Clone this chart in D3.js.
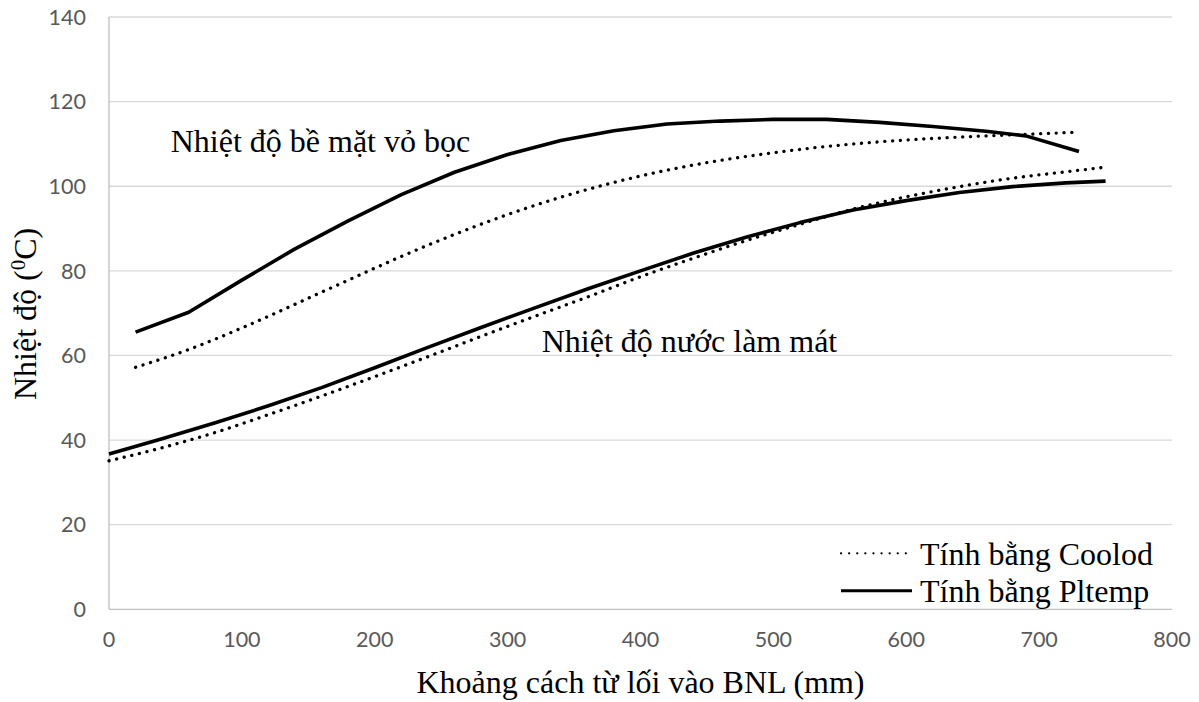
<!DOCTYPE html>
<html>
<head>
<meta charset="utf-8">
<script src="https://cdn.jsdelivr.net/npm/d3@7"></script>
<style>
  html, body { margin: 0; padding: 0; background: #fff; }
  svg { display: block; }
</style>
</head>
<body>
<svg id="chart" width="1199" height="702"></svg>
<script>
// ---- Data ----
const xTicks = [0, 100, 200, 300, 400, 500, 600, 700, 800];
const yTicks = [0, 20, 40, 60, 80, 100, 120, 140];

// Surface temperature (upper curves)
const upperX_Pltemp = [20,60,100,140,180,220,260,300,340,380,420,460,500,540,580,620,660,690,730];
const upperY_Pltemp = [65.5,70.2,77.8,85.2,91.8,98.0,103.3,107.5,110.8,113.1,114.7,115.4,115.8,115.8,115.1,114.1,113.0,111.9,108.2];
const upperX_Coolod = [20,60,100,140,180,220,260,300,340,380,420,460,500,540,580,620,660,700,730];
const upperY_Coolod = [57.2,61.4,66.5,72.1,77.8,83.4,88.6,93.3,97.4,100.9,103.8,106.1,107.9,109.4,110.5,111.3,111.9,112.4,112.8];

// Coolant temperature (lower curves)
const lowerX = [0,40,80,120,160,200,240,280,320,360,400,440,480,520,560,600,640,680,720,750];
const lowerY_Pltemp = [36.7,40.3,44.1,48.1,52.4,57.1,61.9,66.6,71.2,75.7,80.0,84.2,88.0,91.4,94.4,96.6,98.5,99.9,100.8,101.2];
const lowerY_Coolod = [35.1,38.2,41.8,46.0,50.4,55.0,59.7,64.5,69.2,73.8,78.6,83.0,87.2,91.0,94.6,97.5,99.9,101.9,103.4,104.5];

const seriesNames = ["Tính bằng Coolod", "Tính bằng Pltemp"];
const annotations = ["Nhiệt độ bề mặt vỏ bọc", "Nhiệt độ nước làm mát"];
const xTitle = "Khoảng cách từ lối vào BNL (mm)";

// ---- Layout ----
const svg = d3.select("#chart");
const x = d3.scaleLinear().domain([0, 800]).range([109, 1172]);
const y = d3.scaleLinear().domain([0, 140]).range([609.3, 17]);

const serif = "'Liberation Serif', 'Times New Roman', serif";
const sans = "Lato, 'Open Sans', sans-serif";

// gridlines
svg.append("g").selectAll("line").data(yTicks.filter(d => d > 0)).join("line")
  .attr("x1", x(0)).attr("x2", x(800))
  .attr("y1", d => y(d)).attr("y2", d => y(d))
  .attr("stroke", "#d9d9d9").attr("stroke-width", 1.3);

// axes lines
svg.append("line").attr("x1", x(0)).attr("x2", x(0)).attr("y1", y(140)).attr("y2", y(0))
  .attr("stroke", "#bfbfbf").attr("stroke-width", 1.3);
svg.append("line").attr("x1", x(0)).attr("x2", x(800)).attr("y1", y(0)).attr("y2", y(0))
  .attr("stroke", "#bfbfbf").attr("stroke-width", 1.3);

// tick labels
svg.append("g").selectAll("text").data(yTicks).join("text")
  .attr("x", 86).attr("y", d => y(d) + 7.7)
  .attr("text-anchor", "end")
  .attr("font-family", sans).attr("font-size", 21.5).attr("fill", "#595959")
  .text(d => d);
svg.append("g").selectAll("text").data(xTicks).join("text")
  .attr("x", d => x(d)).attr("y", 647.3)
  .attr("text-anchor", "middle")
  .attr("font-family", sans).attr("font-size", 21.5).attr("fill", "#595959")
  .text(d => d);

// lines
const line = d3.line().x(d => x(d[0])).y(d => y(d[1]));
const smoothLine = d3.line().x(d => x(d[0])).y(d => y(d[1])).curve(d3.curveMonotoneX);
const zip = (xs, ys) => xs.map((v, i) => [v, ys[i]]);

const dotted = { width: 3.3, dash: "0.1 7.7", cap: "round", gen: smoothLine };
const solid = { width: 3.6, gen: line };

function drawSeries(data, style) {
  const p = svg.append("path").datum(data).attr("d", style.gen)
    .attr("fill", "none").attr("stroke", "#000")
    .attr("stroke-width", style.width)
    .attr("stroke-linejoin", "round");
  if (style.dash) p.attr("stroke-dasharray", style.dash).attr("stroke-linecap", style.cap);
  else p.attr("stroke-linecap", "butt");
}
drawSeries(zip(upperX_Coolod, upperY_Coolod), dotted);
drawSeries(zip(lowerX, lowerY_Coolod), dotted);
drawSeries(zip(upperX_Pltemp, upperY_Pltemp), solid);
drawSeries(zip(lowerX, lowerY_Pltemp), solid);

// annotations
svg.append("text").attr("x", 170.7).attr("y", 151.7)
  .attr("font-family", serif).attr("font-size", 32).attr("fill", "#000")
  .text(annotations[0]);
svg.append("text").attr("x", 541.7).attr("y", 351.7)
  .attr("font-family", serif).attr("font-size", 32).attr("fill", "#000")
  .text(annotations[1]);

// legend
const lg = svg.append("g");
lg.append("line").attr("x1", 841).attr("x2", 913).attr("y1", 553.3).attr("y2", 553.3)
  .attr("stroke", "#000").attr("stroke-width", 2.2)
  .attr("stroke-dasharray", "0.1 8").attr("stroke-linecap", "round");
lg.append("line").attr("x1", 841).attr("x2", 912).attr("y1", 590.7).attr("y2", 590.7)
  .attr("stroke", "#000").attr("stroke-width", 3);
lg.append("text").attr("x", 920).attr("y", 565)
  .attr("font-family", serif).attr("font-size", 32).attr("fill", "#000").text(seriesNames[0]);
lg.append("text").attr("x", 920).attr("y", 601.7)
  .attr("font-family", serif).attr("font-size", 32).attr("fill", "#000").text(seriesNames[1]);

// axis titles
svg.append("text").attr("x", 640.5).attr("y", 693)
  .attr("text-anchor", "middle")
  .attr("font-family", serif).attr("font-size", 32).attr("fill", "#000")
  .text(xTitle);

const yt = svg.append("text")
  .attr("transform", "translate(36,400) rotate(-90)")
  .attr("font-family", serif).attr("font-size", 32).attr("fill", "#000");
yt.append("tspan").text("Nhiệt độ (");
yt.append("tspan").attr("font-size", 21).attr("dy", -11).text("0");
yt.append("tspan").attr("dy", 11).text("C)");
</script>
</body>
</html>
